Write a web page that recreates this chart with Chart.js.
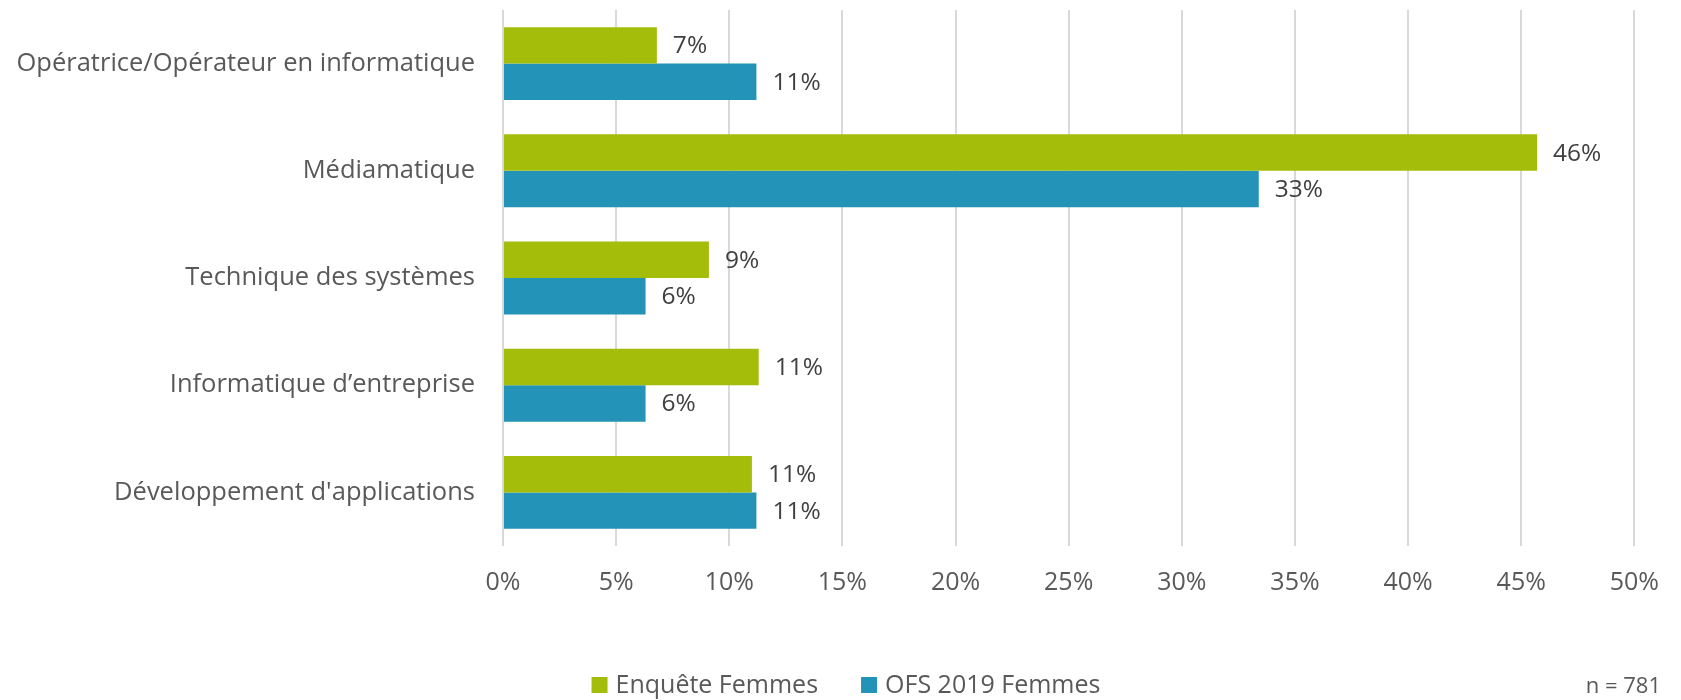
<!DOCTYPE html>
<html>
<head>
<meta charset="utf-8">
<script src="https://cdn.jsdelivr.net/npm/chart.js@4.4.1/dist/chart.umd.min.js"></script>
<style>
  html, body { margin: 0; padding: 0; background: #ffffff; }
  #wrap { width: 1681px; height: 700px; position: relative; }
</style>
</head>
<body>
<div id="wrap"><canvas id="c" width="1681" height="700"></canvas></div>
<script>
const categories = [
  "Opératrice/Opérateur en informatique",
  "Médiamatique",
  "Technique des systèmes",
  "Informatique d\u2019entreprise",
  "Développement d'applications"
];
const seriesNames = ["Enquête Femmes", "OFS 2019 Femmes"];
const enqueteFemmes = [6.8, 45.7, 9.1, 11.3, 11.0];
const ofs2019Femmes = [11.2, 33.4, 6.3, 6.3, 11.2];
const xTicks = [0, 5, 10, 15, 20, 25, 30, 35, 40, 45, 50];
const noteText = "n = 781";

const FONT = "'Open Sans', 'Noto Sans', sans-serif";
const GREEN = "#A4BC0A";
const BLUE = "#2393B8";

const valueLabels = {
  id: 'valueLabels',
  afterDatasetsDraw(chart) {
    const ctx = chart.ctx;
    ctx.save();
    ctx.font = "24.5px " + FONT;
    ctx.fillStyle = "#404040";
    ctx.textAlign = "left";
    ctx.textBaseline = "middle";
    chart.data.datasets.forEach((ds, di) => {
      const meta = chart.getDatasetMeta(di);
      meta.data.forEach((bar, i) => {
        ctx.fillText(Math.round(ds.data[i]) + "%", bar.x + 16, bar.y + 1);
      });
    });
    ctx.restore();
  }
};

const bottomLegend = {
  id: 'bottomLegend',
  afterDraw(chart) {
    const ctx = chart.ctx;
    ctx.save();
    ctx.font = "25px " + FONT;
    ctx.textBaseline = "middle";
    ctx.textAlign = "left";
    const box = 16, gap = 8, between = 43, cy = 686;
    const items = chart.data.datasets.map(ds => ({ text: ds.label, color: ds.backgroundColor, w: ctx.measureText(ds.label).width }));
    let total = 0;
    items.forEach((it, i) => { total += box + gap + it.w + (i ? between : 0); });
    let x = 846 - total / 2;
    items.forEach((it) => {
      ctx.fillStyle = it.color;
      ctx.fillRect(x, cy - box / 2 - 1, box, box);
      ctx.fillStyle = "#595959";
      ctx.fillText(it.text, x + box + gap, cy);
      x += box + gap + it.w + between;
    });
    ctx.font = "22px " + FONT;
    ctx.textAlign = "right";
    ctx.fillText(noteText, 1661, 687);
    ctx.restore();
  }
};

new Chart(document.getElementById('c'), {
  type: 'bar',
  data: {
    labels: categories,
    datasets: [
      { label: seriesNames[0], data: enqueteFemmes, backgroundColor: GREEN, borderWidth: 0 },
      { label: seriesNames[1], data: ofs2019Femmes, backgroundColor: BLUE, borderWidth: 0 }
    ]
  },
  options: {
    indexAxis: 'y',
    responsive: false,
    animation: false,
    devicePixelRatio: 1,
    categoryPercentage: 0.68,
    barPercentage: 1.0,
    layout: { padding: { top: 10, right: 40, left: 0, bottom: 0 } },
    plugins: {
      tooltip: { enabled: false },
      legend: { display: false }
    },
    scales: {
      x: {
        min: 0,
        max: 50,
        afterBuildTicks(scale) { scale.ticks = xTicks.map(v => ({ value: v })); },
        afterFit(scale) { scale.height = 154; },
        grid: { color: '#D9D9D9', lineWidth: 2, drawTicks: false },
        border: { display: false },
        ticks: {
          font: { family: FONT, size: 25 },
          color: '#595959',
          padding: 22,
          maxRotation: 0,
          callback: (v) => v + '%'
        }
      },
      y: {
        afterFit(scale) { scale.width = 503; scale.paddingTop = 0; scale.paddingBottom = 0; },
        grid: { display: false, drawTicks: false },
        border: { display: false },
        ticks: {
          font: { family: FONT, size: 25.5 },
          color: '#595959',
          padding: 28
        }
      }
    }
  },
  plugins: [valueLabels, bottomLegend]
});
</script>
</body>
</html>
